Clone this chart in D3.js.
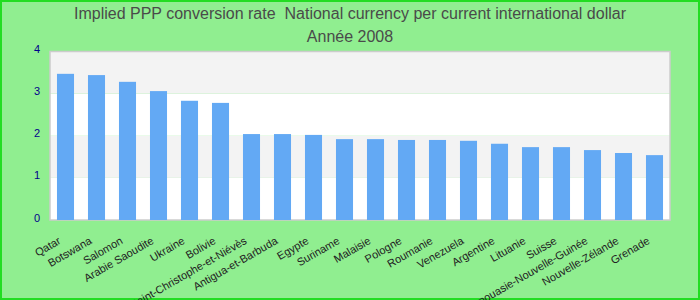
<!DOCTYPE html>
<html>
<head>
<meta charset="utf-8">
<script src="https://cdn.jsdelivr.net/npm/d3@7"></script>
<style>
  body { margin: 0; }
  svg { display: block; font-family: "Liberation Sans", Arial, sans-serif; }
</style>
</head>
<body>
<svg width="700" height="300"></svg>
<script>
// Pays (ordre du graphique)
var countries = ['Qatar', 'Botswana', 'Salomon', 'Arabie Saoudite', 'Ukraine', 'Bolivie',
    'Saint-Christophe-et-Niévès', 'Antigua-et-Barbuda', 'Egypte', 'Suriname', 'Malaisie',
    'Pologne', 'Roumanie', 'Venezuela', 'Argentine', 'Lituanie', 'Suisse',
    'Papouasie-Nouvelle-Guinée', 'Nouvelle-Zélande', 'Grenade'];
// taux de conversion PPA implicite
var rates = [3.47, 3.44, 3.28, 3.06, 2.83, 2.78, 2.04, 2.04, 2.02, 1.92, 1.92,
    1.90, 1.90, 1.88, 1.81, 1.73, 1.73, 1.66, 1.59, 1.54];
var yTicks = [0, 1, 2, 3, 4];
var titleLines = ['Implied PPP conversion rate  National currency per current international dollar', 'Année 2008'];

var svg = d3.select('svg');
var svgWidth = +svg.attr('width');
var svgHeight = +svg.attr('height');

var padding = {t: 51.5, r: 30, b: 80, l: 50};
var chartWidth = svgWidth - padding.l - padding.r;
var chartHeight = svgHeight - padding.t - padding.b;

// background + border
svg.append('rect')
    .attr('x', 1).attr('y', 1)
    .attr('width', svgWidth - 2).attr('height', svgHeight - 2)
    .attr('fill', '#90ee90')
    .attr('stroke', '#22dd22')
    .attr('stroke-width', 2);

svg.selectAll('.title')
    .data(titleLines)
    .enter().append('text')
    .attr('class', 'title')
    .attr('x', svgWidth / 2)
    .attr('y', function(d, i) { return 19 + i * 23; })
    .attr('text-anchor', 'middle')
    .attr('fill', '#4a4a4a')
    .style('font-size', '16px')
    .style('white-space', 'pre')
    .text(function(d) { return d; });

var chartG = svg.append('g')
    .attr('transform', 'translate(' + [padding.l, padding.t] + ')');

var xScale = d3.scaleBand()
    .domain(countries)
    .range([0, chartWidth])
    .paddingInner(0.45)
    .paddingOuter(0.225);

var yScale = d3.scaleLinear()
    .domain([0, 4])
    .range([chartHeight, 0]);

// alternating bands
var bands = d3.range(0, yTicks.length - 1);
chartG.selectAll('.band')
    .data(bands)
    .enter().append('rect')
    .attr('class', 'band')
    .attr('x', 0)
    .attr('width', chartWidth)
    .attr('y', function(d) { return yScale(yTicks[d + 1]); })
    .attr('height', function(d) { return yScale(yTicks[d]) - yScale(yTicks[d + 1]); })
    .attr('fill', function(d) { return d % 2 ? '#f3f3f3' : '#ffffff'; });

chartG.append('rect')
    .attr('width', chartWidth)
    .attr('height', chartHeight)
    .attr('fill', 'none')
    .attr('stroke', '#cccccc')
    .attr('stroke-width', 1.5);

chartG.selectAll('.bar')
    .data(rates)
    .enter().append('rect')
    .attr('class', 'bar')
    .attr('x', function(d, i) { return xScale(countries[i]); })
    .attr('width', xScale.bandwidth())
    .attr('y', function(d) { return yScale(d); })
    .attr('height', function(d) { return chartHeight - yScale(d); })
    .attr('fill', '#63a9f4');

// y axis
var yAxis = d3.axisLeft(yScale).tickValues(yTicks).tickFormat(d3.format('d')).tickSize(0).tickPadding(10);
var yG = chartG.append('g').call(yAxis);
yG.select('.domain').remove();
yG.selectAll('text')
    .attr('fill', '#00008b')
    .style('font-size', '11px')
    .attr('dy', '0.1em');

// x labels
var xAxis = d3.axisBottom(xScale).tickSize(0);
var xG = chartG.append('g')
    .attr('transform', 'translate(' + [0, chartHeight] + ')')
    .call(xAxis);
xG.select('.domain').remove();
xG.selectAll('text')
    .attr('fill', '#222')
    .style('font-size', '11px')
    .attr('text-anchor', 'end')
    .attr('y', 0)
    .attr('dy', 0)
    .attr('transform', 'translate(-4,23) rotate(-30)');
</script>
</body>
</html>
